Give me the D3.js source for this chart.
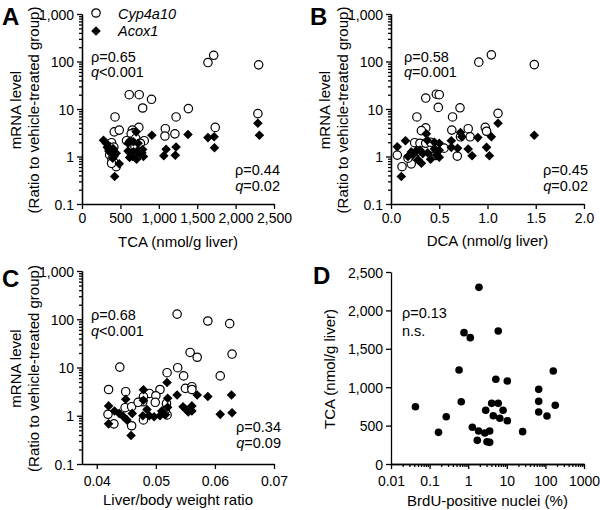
<!DOCTYPE html>
<html><head><meta charset="utf-8">
<script src="https://cdn.jsdelivr.net/npm/d3@7"></script>
<style>
body{margin:0;background:#fff}
svg{display:block}
text{font-family:"Liberation Sans",Arial,sans-serif;fill:#000}
</style>
</head><body>
<svg id="chart" width="600" height="510"></svg>
<script>
// ---------- DATA ----------
const mrnaTicks = [0.1, 1, 10, 100, 1000];
const seriesNames = ["Cyp4a10", "Acox1"];

// Panel A: TCA (nmol/g liver) vs mRNA level
const tcaTicks = [0, 500, 1000, 1500, 2000, 2500];
const panelA_cyp = [[1640,95],[1715,135],[2300,85],[615,20],[745,20],[905,16],[790,10.5],[1385,10.2],[430,6.8],[1225,6.8],[2290,8],[1735,4.1],[1085,3.85],[740,4.1],[420,3.3],[485,3.6],[655,3.6],[675,3.2],[640,3.0],[1210,3.0],[1080,2.7],[580,2.15],[810,2.15],[385,1.95],[345,1.6],[415,1.58],[690,1.6],[360,1.08],[390,0.87],[415,0.75],[445,0.61],[385,0.72],[700,2.4],[760,1.9]];
const panelA_acox = [[2290,5.0],[2310,2.8],[1380,2.9],[1640,2.5],[1720,2.6],[1725,1.53],[910,2.8],[1095,1.42],[1225,1.58],[1065,1.04],[1215,1.06],[280,2.2],[315,1.9],[330,1.56],[360,1.47],[405,1.47],[380,1.2],[445,1.17],[400,0.92],[485,0.7],[425,0.38],[705,3.3],[625,2.15],[670,2.05],[600,1.9],[730,1.9],[600,1.3],[670,1.25],[720,1.3],[620,0.95],[660,1.0],[710,0.88],[760,1.15],[790,1.4],[800,1.0],[780,1.2],[420,1.02],[350,1.3]];

// Panel B: DCA (nmol/g liver) vs mRNA level
const dcaTicks = [0, 0.5, 1.0, 1.5, 2.0];
const panelB_cyp = [[0.91,97],[1.04,138],[1.485,86],[0.47,20.5],[0.50,20],[0.36,17],[0.49,10.8],[0.715,10.6],[0.268,6.8],[0.638,6.8],[1.109,8.1],[0.977,4.1],[0.80,3.85],[0.63,3.6],[0.36,4.0],[0.315,3.5],[0.82,2.6],[0.72,2.6],[0.99,3.4],[0.245,1.95],[0.30,1.9],[0.36,1.9],[0.065,1.07],[0.114,0.61],[0.21,0.7],[0.41,2.0],[0.47,1.26],[0.687,1.02],[0.46,1.05],[0.176,0.92],[0.28,1.3],[0.55,1.5]];
const panelB_acox = [[1.109,5.0],[1.485,2.8],[1.04,2.6],[0.90,2.5],[0.99,1.56],[1.02,1.04],[0.80,1.44],[0.84,1.04],[0.72,3.2],[0.735,2.6],[0.625,2.15],[0.625,1.56],[0.69,1.49],[0.366,3.0],[0.376,2.2],[0.45,2.0],[0.50,1.9],[0.15,2.15],[0.065,1.6],[0.107,0.38],[0.21,1.25],[0.26,1.3],[0.30,1.37],[0.176,1.0],[0.315,0.72],[0.28,0.85],[0.41,0.88],[0.47,1.07],[0.50,0.97],[0.45,1.45],[0.50,1.35],[0.23,1.1],[0.33,1.15],[0.38,1.2]];

// Panel C: Liver/body weight ratio vs mRNA level
const lbwTicks = [0.04, 0.05, 0.06, 0.07];
const panelC_cyp = [[0.0536,128],[0.0588,92],[0.0625,81],[0.0439,10.2],[0.0558,20.5],[0.0570,16.3],[0.0629,19],[0.0537,9.9],[0.0519,7.8],[0.0547,6.7],[0.0609,6.7],[0.0420,3.5],[0.0449,3.15],[0.0550,3.7],[0.0561,4.0],[0.0561,3.5],[0.0507,3.5],[0.0489,2.9],[0.0479,2.5],[0.0500,2.6],[0.0478,1.95],[0.0499,1.9],[0.0448,1.47],[0.0459,1.54],[0.0470,1.9],[0.0518,1.8],[0.0419,1.07],[0.0429,0.68],[0.0459,0.62],[0.0479,0.82],[0.0519,1.04],[0.0516,1.3]];
const panelC_acox = [[0.0519,4.9],[0.0479,3.45],[0.0449,2.2],[0.0479,2.1],[0.0520,2.3],[0.0536,2.7],[0.0570,2.7],[0.0588,2.5],[0.0628,2.7],[0.0420,1.6],[0.0430,1.25],[0.0438,1.12],[0.0445,0.96],[0.0451,0.82],[0.0460,1.12],[0.0420,0.68],[0.0458,0.39],[0.0478,1.0],[0.0489,1.0],[0.0497,0.95],[0.0507,1.0],[0.0516,1.05],[0.0520,1.5],[0.0546,1.54],[0.0552,1.32],[0.0561,1.6],[0.0561,1.25],[0.0555,1.2],[0.0609,1.07],[0.0629,1.15],[0.0510,1.25],[0.0485,1.35]];

// Panel D: BrdU-positive nuclei (%) vs TCA
const brduTicks = [0.01, 0.1, 1, 10, 100, 1000];
const tcaDTicks = [0, 500, 1000, 1500, 2000, 2500];
const panelD = [[1.9,2300],[0.78,1710],[1.13,1645],[6.0,1732],[0.58,1224],[160,1211],[5.2,1103],[10.3,1081],[67,972],[67,816],[67,677],[180,764],[110,625],[0.043,746],[0.27,616],[0.17,412],[0.66,811],[1.28,478],[4.06,790],[6.0,790],[2.84,699],[8.0,699],[4.47,629],[6.6,595],[10.3,564],[25.7,421],[1.86,430],[2.7,404],[3.6,430],[1.72,308],[3.07,290],[3.6,282]];

// ---------- DRAWING ----------
const svg = d3.select("#chart");
const AX = 1.3;

function minorLog(domain){
  const out=[]; let d=domain[0];
  while(d<domain[1]-1e-12){ for(let k=2;k<=9;k++) out.push(+(d*k).toPrecision(6)); d*=10; }
  return out;
}
const diamond = "M0,-4.8L4.8,0L0,4.8L-4.8,0Z";

function styleAxis(g){
  g.selectAll("path.domain").attr("stroke","#000").attr("stroke-width",AX);
  g.selectAll(".tick line").attr("stroke","#000").attr("stroke-width",AX);
  g.selectAll(".tick text").style("font-size","14px").style("font-family","'Liberation Sans',Arial,sans-serif").attr("fill","#000");
}

function panel(o){
  const g = svg.append("g");
  const x = o.xScale.range([o.l, o.r]);
  const y = o.yScale.range([o.b, o.t]);
  if(o.yMinor){
    g.append("g").attr("transform",`translate(${o.l},0)`)
      .call(d3.axisLeft(y).tickValues(o.yMinor).tickSize(3).tickSizeOuter(0).tickFormat(""))
      .call(styleAxis);
  }
  if(o.xMinor){
    g.append("g").attr("transform",`translate(0,${o.b})`)
      .call(d3.axisBottom(x).tickValues(o.xMinor).tickSize(3).tickSizeOuter(0).tickFormat(""))
      .call(styleAxis);
  }
  const ya = g.append("g").attr("transform",`translate(${o.l},0)`)
    .call(d3.axisLeft(y).tickValues(o.yTicks).tickSize(5).tickSizeOuter(0).tickPadding(3).tickFormat(o.yFmt))
    .call(styleAxis);
  ya.selectAll(".tick text").attr("dy","0.36em");
  const xa = g.append("g").attr("transform",`translate(0,${o.b})`)
    .call(d3.axisBottom(x).tickValues(o.xTicks).tickSize(5).tickSizeOuter(0).tickPadding(o.xPad).tickFormat(o.xFmt))
    .call(styleAxis);
  xa.selectAll(".tick text").attr("dy","0.71em");
  g.append("text").attr("x",(o.l+o.r)/2).attr("y",o.b+o.xTitleGap).attr("text-anchor","middle")
    .style("font-size","15px").text(o.xTitle);
  const yt = g.append("text").attr("transform",`translate(${o.yTitleX},${(o.t+o.b)/2+1}) rotate(-90)`)
    .attr("text-anchor","middle").style("font-size","15px");
  o.yTitle.forEach((line,i)=>{
    yt.append("tspan").attr("x",0).attr("dy", i===0 ? (o.yTitle.length>1?"-0.2em":"0") : "1.2em").text(line);
  });
  g.append("text").attr("x",o.letterX).attr("y",o.letterY).style("font-size","24px").style("font-weight","bold").text(o.letter);
  if(o.cyp){
    g.append("g").selectAll("circle").data(o.cyp).join("circle")
      .attr("cx",d=>x(d[0])).attr("cy",d=>y(d[1])).attr("r",4.2)
      .attr("fill","#fff").attr("stroke","#000").attr("stroke-width",1.2);
  }
  if(o.acox){
    g.append("g").selectAll("path").data(o.acox).join("path")
      .attr("d",diamond).attr("transform",d=>`translate(${x(d[0])},${y(d[1])})`).attr("fill","#000");
  }
  if(o.dots){
    g.append("g").selectAll("circle").data(o.dots).join("circle")
      .attr("cx",d=>x(d[0])).attr("cy",d=>y(d[1])).attr("r",3.8).attr("fill","#000");
  }
  (o.notes||[]).forEach(n=>{
    const t = g.append("text").attr("x",n.x).attr("y",n.y).attr("text-anchor",n.anchor||"start").style("font-size","14.5px");
    if(n.italicPrefix){ t.append("tspan").style("font-style","italic").text(n.italicPrefix); }
    t.append("tspan").text(n.text);
  });
  return {x,y,g};
}

const mrnaFmt = v => v>=1000 ? d3.format(",")(v) : String(v);
const mrnaMinor = minorLog([0.1,1000]);
const mrnaTitle = ["mRNA level","(Ratio to vehicle-treated group)"];

panel({l:82,r:274,t:14,b:204,
  xScale:d3.scaleLinear().domain([0,2500]), yScale:d3.scaleLog().domain([0.1,1000]),
  xTicks:tcaTicks, xFmt:d3.format(","), xPad:4, xTitleGap:43, yTicks:mrnaTicks, yFmt:mrnaFmt, yMinor:mrnaMinor,
  xTitle:"TCA (nmol/g liver)", yTitle:mrnaTitle, yTitleX:24,
  letter:"A", letterX:2, letterY:25,
  cyp:panelA_cyp, acox:panelA_acox,
  notes:[{x:91,y:62,text:"ρ=0.65"},{x:91,y:77,italicPrefix:"q",text:"<0.001"},
         {x:280,y:175,text:"ρ=0.44",anchor:"end"},{x:280,y:191,italicPrefix:"q",text:"=0.02",anchor:"end"}]
});

const lg = svg.append("g");
lg.append("circle").attr("cx",96).attr("cy",13).attr("r",4.2).attr("fill","#fff").attr("stroke","#000").attr("stroke-width",1.2);
lg.append("text").attr("x",118).attr("y",18.5).style("font-size","14.5px").style("font-style","italic").text(seriesNames[0]);
lg.append("path").attr("d",diamond).attr("transform","translate(96,31)").attr("fill","#000");
lg.append("text").attr("x",118).attr("y",35.5).style("font-size","14.5px").style("font-style","italic").text(seriesNames[1]);

panel({l:391,r:584,t:14,b:204,
  xScale:d3.scaleLinear().domain([0,2]), yScale:d3.scaleLog().domain([0.1,1000]),
  xTicks:dcaTicks, xFmt:d3.format(".1f"), xPad:4, xTitleGap:42, yTicks:mrnaTicks, yFmt:mrnaFmt, yMinor:mrnaMinor,
  xTitle:"DCA (nmol/g liver)", yTitle:mrnaTitle, yTitleX:333,
  letter:"B", letterX:310, letterY:25,
  cyp:panelB_cyp, acox:panelB_acox,
  notes:[{x:404,y:62,text:"ρ=0.58"},{x:404,y:77,italicPrefix:"q",text:"=0.001"},
         {x:588,y:175,text:"ρ=0.45",anchor:"end"},{x:588,y:191,italicPrefix:"q",text:"=0.02",anchor:"end"}]
});

panel({l:82,r:274,t:271,b:464,
  xScale:d3.scaleLinear().domain([0.0375,0.07]), yScale:d3.scaleLog().domain([0.1,1000]),
  xTicks:lbwTicks, xFmt:d3.format(".2f"), xPad:7, xTitleGap:41, yTicks:mrnaTicks, yFmt:mrnaFmt, yMinor:mrnaMinor,
  xTitle:"Liver/body weight ratio", yTitle:mrnaTitle, yTitleX:24,
  letter:"C", letterX:2, letterY:287,
  cyp:panelC_cyp, acox:panelC_acox,
  notes:[{x:91,y:320,text:"ρ=0.68"},{x:91,y:336,italicPrefix:"q",text:"<0.001"},
         {x:281,y:432,text:"ρ=0.34",anchor:"end"},{x:281,y:448,italicPrefix:"q",text:"=0.09",anchor:"end"}]
});

panel({l:391,r:584,t:272,b:464,
  xScale:d3.scaleLog().domain([0.01,1000]), yScale:d3.scaleLinear().domain([0,2500]),
  xTicks:brduTicks, xFmt:v=>String(v), xPad:7, xTitleGap:42, xMinor:minorLog([0.01,1000]),
  yTicks:tcaDTicks, yFmt:d3.format(","),
  xTitle:"BrdU-positive nuclei (%)", yTitle:["TCA (nmol/g liver)"], yTitleX:335,
  letter:"D", letterX:313, letterY:284,
  dots:panelD,
  notes:[{x:402,y:318,text:"ρ=0.13"},{x:402,y:336,text:"n.s."}]
});
</script>
</body></html>
